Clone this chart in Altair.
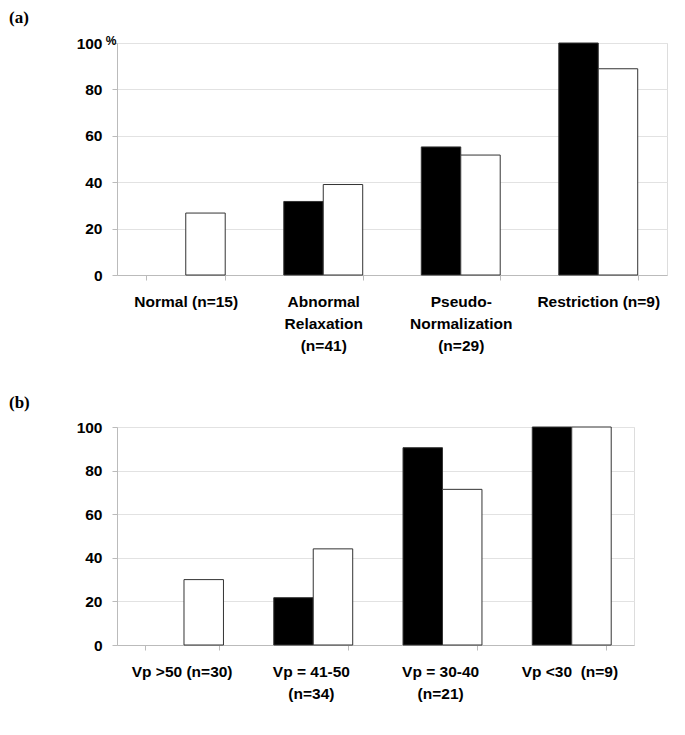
import altair as alt
import pandas as pd

series = ["Filled", "Open"]

cats_a = ["Normal (n=15)", "Abnormal|Relaxation|(n=41)", "Pseudo-|Normalization|(n=29)", "Restriction (n=9)"]
filled_a = [0, 31.7, 55.2, 100]
open_a = [26.7, 39.0, 51.7, 88.9]

cats_b = ["Vp >50 (n=30)", "Vp = 41-50|(n=34)", "Vp = 30-40|(n=21)", "Vp <30\u00a0 (n=9)"]
filled_b = [0, 21.7, 90.5, 100]
open_b = [30.0, 44.1, 71.4, 100]

y_ticks = [0, 20, 40, 60, 80, 100]

FONT = "Liberation Sans"


def make_df(cats, filled, opn):
    rows = []
    for c, f, o in zip(cats, filled, opn):
        rows.append({"cat": c, "series": series[0], "value": f})
        rows.append({"cat": c, "series": series[1], "value": o})
    return pd.DataFrame(rows)


def panel(cats, filled, opn, title, w, h, pct=False):
    df = make_df(cats, filled, opn)
    base = alt.Chart(df)
    bars = base.mark_bar(stroke="#333333", strokeWidth=1).encode(
        x=alt.X("cat:N", sort=cats, title=None,
                scale=alt.Scale(paddingInner=0.426, paddingOuter=0.213),
                axis=alt.Axis(labelAngle=0, labelExpr="split(datum.label, '|')",
                              labelFont=FONT, labelFontWeight="bold", labelFontSize=15.5,
                              labelColor="black", labelLineHeight=22, labelPadding=14,
                              labelBaseline="top",
                              tickBand="extent", tickSize=5, tickColor="#bbbbbb",
                              domainColor="#bbbbbb", grid=False)),
        xOffset=alt.XOffset("series:N", sort=series,
                            scale=alt.Scale(domain=series, paddingInner=0, paddingOuter=0)),
        y=alt.Y("value:Q", title=None,
                scale=alt.Scale(domain=[0, 100], nice=False),
                axis=alt.Axis(values=y_ticks, labelFont=FONT, labelFontWeight="bold",
                              labelFontSize=15.5, labelColor="black", labelPadding=10,
                              tickSize=5, tickColor="#bbbbbb", domainColor="#bbbbbb",
                              gridColor="#e2e2e2")),
        color=alt.Color("series:N", scale=alt.Scale(domain=series, range=["black", "white"]),
                        legend=None),
    ).transform_filter("datum.value > 0")
    layers = [bars]
    if pct:
        pdf = pd.DataFrame({"v": [100], "t": ["%"]})
        layers.append(alt.Chart(pdf).mark_text(font=FONT, fontWeight="bold", fontSize=12,
                                               align="center", baseline="middle", dy=-2).encode(
            y=alt.Y("v:Q"), x=alt.value(-6), text="t:N"))
    return alt.layer(*layers).properties(
        width=w, height=h,
        title=alt.TitleParams(text=title, anchor="start", frame="group", dx=-108,
                              offset=8, font="Liberation Serif", fontWeight="bold",
                              fontSize=17, color="black"))


a = panel(cats_a, filled_a, open_a, "(a)", 550, 232, pct=True)
b = panel(cats_b, filled_b, open_b, "(b)", 517, 218)

chart = alt.vconcat(a, b, spacing=39).properties(
    padding={"left": 0, "top": 0, "right": 5, "bottom": 5}
).configure_view(stroke=None).configure(background="white")

chart.save("out.html", embed_options={"renderer": "svg", "actions": False})
